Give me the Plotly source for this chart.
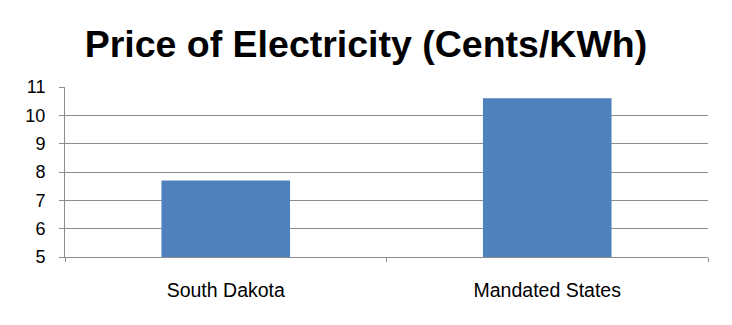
import plotly.graph_objects as go

categories = ["South Dakota", "Mandated States"]
prices = [7.7, 10.6]
y_ticks = [5, 6, 7, 8, 9, 10, 11]

fig = go.Figure(go.Bar(x=categories, y=prices, marker_color="#4F81BD",
                       marker_line_width=0, width=0.4))

fig.update_layout(
    width=732, height=325,
    margin=dict(l=57, r=32, t=79, b=76),
    paper_bgcolor="white", plot_bgcolor="white",
    font=dict(family="Liberation Sans, Arial, sans-serif", color="black", size=17),
    title=dict(text="<b>Price of Electricity (Cents/KWh)</b>", x=0.489, xanchor="center",
               xref="container", yref="container",
               y=0.89, yanchor="middle", font=dict(size=37.5, color="black")),
    showlegend=False,
)
fig.update_yaxes(range=[5, 11], tickvals=y_ticks, showgrid=True, gridcolor="#8c8c8c",
                 gridwidth=1, showline=True, linecolor="#8c8c8c", ticks="outside",
                 ticklen=5, tickcolor="#8c8c8c", zeroline=False, tickfont=dict(size=18),
                 ticklabelstandoff=10)
fig.update_xaxes(showline=True, linecolor="#8c8c8c", ticks="outside", tickson="boundaries",
                 ticklen=4, tickcolor="#8c8c8c", tickfont=dict(size=19.5),
                 ticklabelstandoff=16, showgrid=False)

fig.write_html("out.html")
